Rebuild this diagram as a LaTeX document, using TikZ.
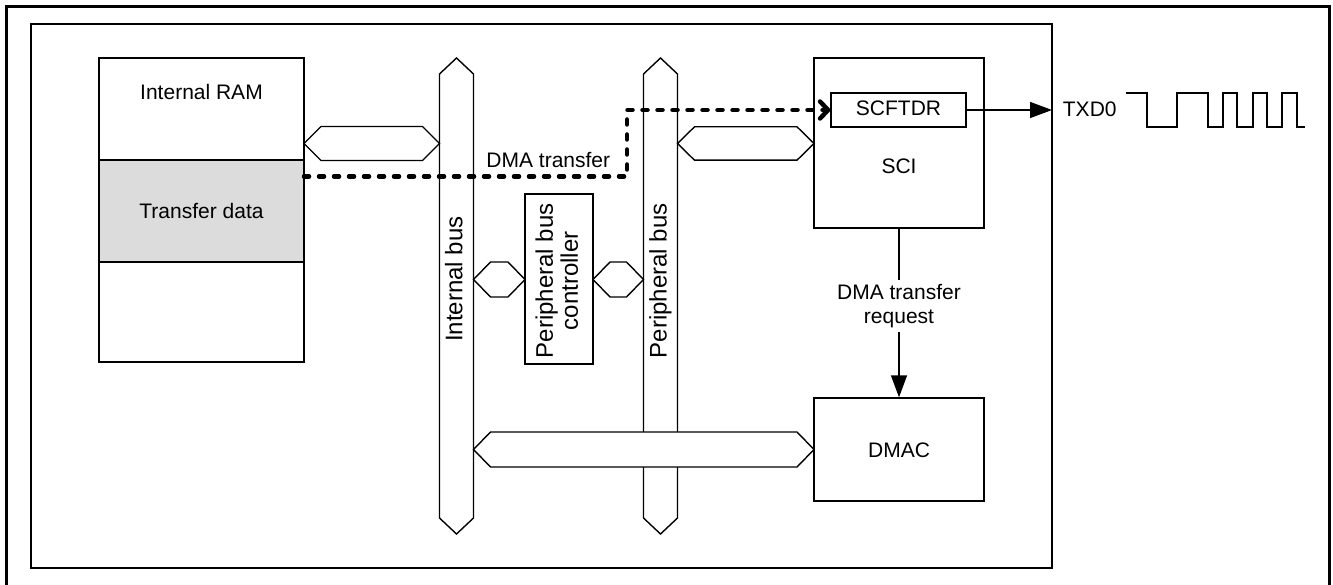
\documentclass[tikz,border=0pt]{standalone}
\usepackage{fontspec}
\setmainfont{Liberation Sans}
\usetikzlibrary{arrows.meta,calc}

% horizontal bus link: left x, right x, middle y, half height
\newcommand\hexlink[4]{%
  \draw[busline] (#1,#3) -- (#1+17,#3-#4) -- (#2-17,#3-#4) -- (#2,#3)
    -- (#2-17,#3+#4) -- (#1+17,#3+#4) -- cycle;}
% vertical bus bar: left x, right x, top tip y, bottom tip y
\newcommand\vbar[4]{%
  \draw[busline] ({(#1+#2)/2},#3) -- (#2,#3+16) -- (#2,#4-16) -- ({(#1+#2)/2},#4)
    -- (#1,#4-16) -- (#1,#3+16) -- cycle;}

\begin{document}
\begin{tikzpicture}[x=1pt,y=-1pt,
  every node/.style={inner sep=0pt},
  thinline/.style={line width=1.4pt},
  busline/.style={line width=1.4pt, fill=white, line join=miter},
  blk/.style={draw, line width=1.4pt, fill=white},
  txt/.style={font=\fontsize{21}{24}\selectfont},
  vtxt/.style={font=\fontsize{24}{25}\selectfont, rotate=90},
  dmaflow/.style={line width=4.5pt, dash pattern=on 5pt off 10pt, line cap=round,
    -{Straight Barb[length=8pt, width=17pt, line cap=round, line join=round]}},
  sig/.style={line width=1.4pt, -{Triangle[length=22pt, width=16pt]}}]

\useasboundingbox (0,0) rectangle (1333,585);
\clip (0,0) rectangle (1333,585);

% outer and inner frames
\draw[line width=3pt] (6,600) -- (6,7) -- (1329.5,7) -- (1329.5,600);
\draw[thinline] (31,24) rectangle (1052,568);

% internal RAM
\node[blk, minimum width=205, minimum height=102] (ramtop) at (201.5,109) {};
\node[blk, fill={rgb,255:red,220;green,220;blue,220}, minimum width=205, minimum height=102] (xfer) at (201.5,211) {};
\node[blk, minimum width=205, minimum height=100] (rambot) at (201.5,312) {};
\node[txt, anchor=base] (ramlbl) at (201.5,99.3) {Internal RAM};
\node[txt, anchor=base] (xferlbl) at (201.5,218.3) {Transfer data};

% buses
\vbar{439.5}{473.5}{58}{534}
\vbar{643.5}{677.5}{58}{534}
\node[vtxt, anchor=base] (ibus) at (462.3,279.2) {Internal bus};
\node[vtxt, anchor=base] (pbus) at (666.7,280.8) {Peripheral bus};

% peripheral bus controller
\node[blk, minimum width=68, minimum height=170] (pbc) at (559,279) {};
\node[vtxt, align=center] (pbclbl) at (556.8,280.8) {Peripheral bus\\controller};

% SCI with SCFTDR, and DMAC
\node[blk, minimum width=170, minimum height=170] (sci) at (899,143) {};
\node[blk, minimum width=135, minimum height=34] (scftdr) at (898.5,110) {};
\node[txt, anchor=base] (scftdrlbl) at (898.5,116) {SCFTDR};
\node[txt, anchor=base] (scilbl) at (899,174) {SCI};
\node[blk, minimum width=170, minimum height=103] (dmac) at (899,449.5) {};
\node[txt, anchor=base] (dmaclbl) at (899,457) {DMAC};

% bus links
\hexlink{304}{439.5}{143.5}{17}
\hexlink{473.5}{525}{279.5}{17.5}
\hexlink{593}{643.5}{279.5}{17.5}
\hexlink{677.5}{814}{143.5}{16.7}
\hexlink{473.5}{814}{449.5}{17.5}

% DMA transfer path
\coordinate (dmastart) at (304,176.5);
\coordinate (dmabend) at (627,176.5);
\draw[dmaflow] (dmastart) -- (dmabend) |- (scftdr.west);
\node[txt, anchor=base] (dmalbl) at (548.3,167.3) {DMA transfer};

% serial output
\coordinate (txdpin) at (1052,110);
\draw[sig] (scftdr.east) -- (txdpin);
\node[txt, anchor=base west] (txd) at (1062.7,116.7) {TXD0};
\draw[thinline] (1126,93) -- (1147,93) -- (1147,127) -- (1177,127) -- (1177,93)
  -- (1208,93) -- (1208,127) -- (1223,127) -- (1223,93) -- (1237,93) -- (1237,127)
  -- (1253,127) -- (1253,93) -- (1267,93) -- (1267,127) -- (1282,127) -- (1282,93)
  -- (1297,93) -- (1297,127) -- (1305,127);

% transfer request
\draw[sig] (sci.south) -- node[txt, pos=0.457, fill=white, inner sep=4pt, align=center] (reqlbl) {DMA transfer\\request} (dmac.north);

\end{tikzpicture}
\end{document}
